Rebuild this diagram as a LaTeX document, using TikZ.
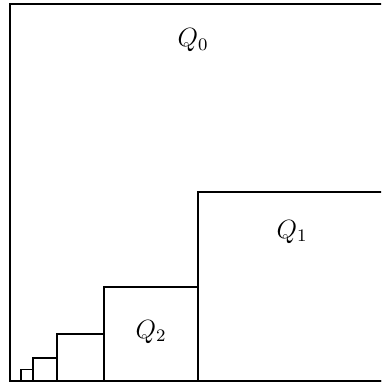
\documentclass[tikz,border=0pt]{standalone}
\usetikzlibrary{positioning}
\tikzset{sq/.style={draw=black,line width=0.9pt},lab/.style={anchor=base,inner sep=0pt,font=\fontsize{12}{14}\selectfont}}
\begin{document}
\begin{tikzpicture}[x=0.4545pt,y=-0.4545pt]
\clip (0,0) rectangle (381,383);
\useasboundingbox (0,0) rectangle (381,383);
\draw[sq] (10,4) rectangle (383,381);
\draw[sq] (198,192) rectangle (383,381);
\draw[sq] (104,287) rectangle (198,381);
\draw[sq] (57,334) rectangle (104,381);
\draw[sq] (33,358) rectangle (57,381);
\draw[sq] (21,369.5) rectangle (33,381);
\node[lab] (q0) at (193,47) {$Q_0$};
\node[lab] (q1) at (292,238) {$Q_1$};
\node[lab] (q2) at (151,338) {$Q_2$};
\end{tikzpicture}
\end{document}
